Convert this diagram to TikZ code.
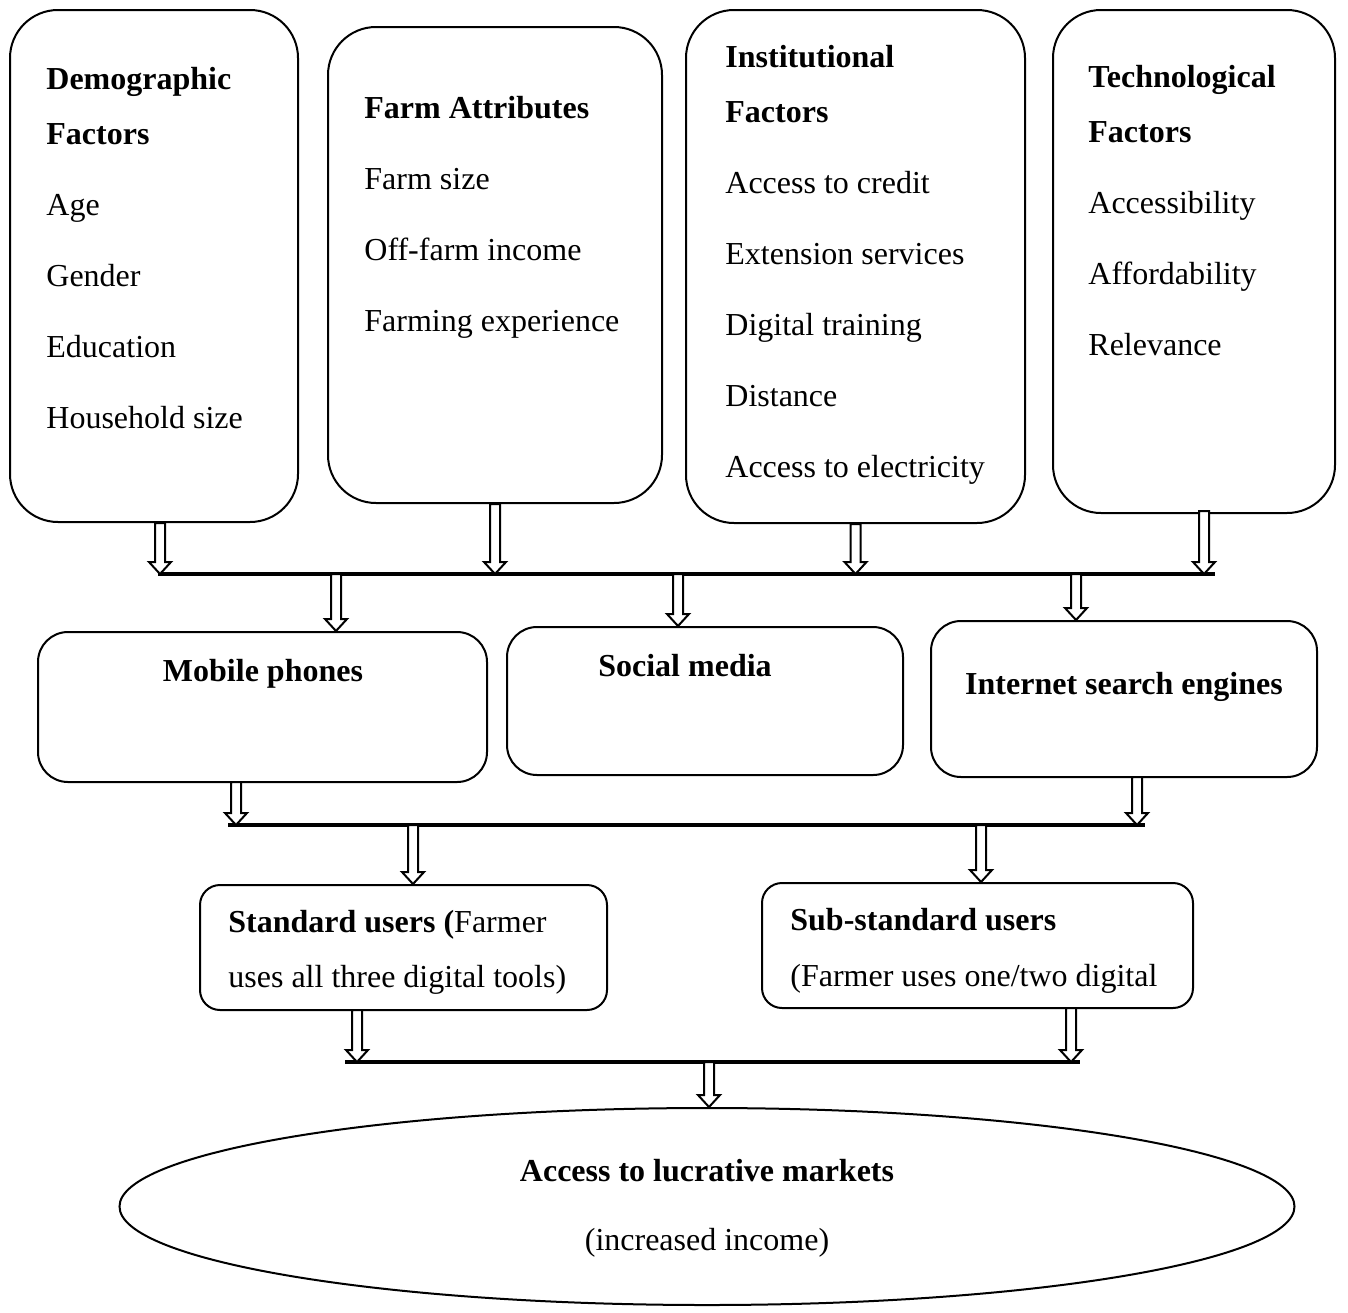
\documentclass[tikz,border=0pt]{standalone}
\usepackage{fontspec}
\setmainfont{Liberation Serif}
\usetikzlibrary{shapes.geometric}
\usetikzlibrary{fit}
\usetikzlibrary{calc}

\tikzset{
  bigbox/.style={draw, line width=1pt, rectangle, rounded corners=24pt, inner sep=0pt},
  midbox/.style={draw, line width=1pt, rectangle, rounded corners=15pt, inner sep=0pt},
  smallbox/.style={draw, line width=1pt, rectangle, rounded corners=10pt, inner sep=0pt},
  txt/.style={inner sep=0pt, align=left, font=\fontsize{16}{35.5}\selectfont},
  bar/.style={line width=1.6pt},
  blockarrow/.style={draw, line width=1pt, fill=white, line join=miter}
}

% hollow down arrow between two points
\newcommand\hollowdown[2]{%
  \draw[blockarrow] let \p1=(#1), \p2=(#2) in
    (\x1-2.5pt,\y1) -- (\x1-2.5pt,\y2+6pt) -- (\x1-5.5pt,\y2+6pt) -- (\x1,\y2)
    -- (\x1+5.5pt,\y2+6pt) -- (\x1+2.5pt,\y2+6pt) -- (\x1+2.5pt,\y1) -- cycle;}

\begin{document}
\begin{tikzpicture}[x=0.5pt, y=-0.5pt]
    \useasboundingbox (0,0) rectangle (1348,1312);

    % factor boxes
    \node[bigbox, fit={(10,10) (298,522)}] (demo) {};
    \node[bigbox, fit={(328,27) (662,503)}] (farm) {};
    \node[bigbox, fit={(686,10) (1025,523)}] (inst) {};
    \node[bigbox, fit={(1053,10) (1335,513)}] (tech) {};

    \node[txt, anchor=north west] (demotxt) at (46,67)
    {
      \textbf{Demographic}\\[-8pt] \textbf{Factors}\\ Age\\ Gender\\
      Education\\ Household size
    };
    \node[txt, anchor=north west] (farmtxt) at (364,96)
    {
      \textbf{Farm Attributes}\\ Farm size\\ Off-farm income\\
      Farming experience
    };
    \node[txt, anchor=north west] (insttxt) at (725,45)
    {
      \textbf{Institutional}\\[-8pt] \textbf{Factors}\\ Access to credit\\
      Extension services\\ Digital training\\ Distance\\
      Access to electricity
    };
    \node[txt, anchor=north west] (techtxt) at (1088,65)
    {
      \textbf{Technological}\\[-8pt] \textbf{Factors}\\ Accessibility\\
      Affordability\\ Relevance
    };

    % first joining bar
    \coordinate (bar1w) at (158,574);
    \coordinate (bar1e) at (1215,574);
    \draw[bar] (bar1w) -- (bar1e);

    \hollowdown{[xshift=3pt]demo.south}{[xshift=3pt]demo.south |- bar1w}
    \hollowdown{farm.south}{farm.south |- bar1w}
    \hollowdown{inst.south}{inst.south |- bar1w}
    \hollowdown{[xshift=5pt,yshift=1.5pt]tech.south}{[xshift=5pt]tech.south |- bar1w}

    % digital tools
    \node[midbox, fit={(38,632) (487,782)}] (mobile) {};
    \node[midbox, fit={(507,627) (903,775)}] (social) {};
    \node[midbox, fit={(931,621) (1317,777)}] (search) {};

    \node[txt] (mobiletxt) at (263,674) {\textbf{Mobile phones}};
    \node[txt] (socialtxt) at (685,666) {\textbf{Social media}};
    \node[txt] (searchtxt) at (1124,687) {\textbf{Internet search engines}};

    \coordinate (m1) at (336,574);
    \coordinate (s1) at (678,574);
    \coordinate (i1) at (1076,574);
    \hollowdown{m1}{m1 |- mobile.north}
    \hollowdown{s1}{s1 |- social.north}
    \hollowdown{i1}{i1 |- search.north}

    % second joining bar
    \coordinate (bar2w) at (228,825);
    \coordinate (bar2e) at (1145,825);
    \draw[bar] (bar2w) -- (bar2e);

    \coordinate (m2) at (236,782);
    \coordinate (i2) at (1137,777);
    \hollowdown{m2}{m2 |- bar2w}
    \hollowdown{i2}{i2 |- bar2w}

    % user groups
    \node[smallbox, fit={(200,885) (607,1010)}] (standard) {};
    \node[smallbox, fit={(762,883) (1193,1008)}] (substd) {};

    \node[txt, anchor=north west, font=\fontsize{16}{27.5}\selectfont]
      (standardtxt) at (228,910)
    {
      \textbf{Standard users (}Farmer\\ uses all three digital tools)
    };
    \node[txt, anchor=north west, font=\fontsize{16}{28}\selectfont]
      (substdtxt) at (790,908)
    {
      \textbf{Sub-standard users}\\ (Farmer uses one/two digital
    };

    \coordinate (u1) at (413,825);
    \coordinate (u2) at (981,825);
    \hollowdown{u1}{u1 |- standard.north}
    \hollowdown{u2}{u2 |- substd.north}

    % third joining bar
    \coordinate (bar3w) at (345,1062);
    \coordinate (bar3e) at (1080,1062);
    \draw[bar] (bar3w) -- (bar3e);

    \coordinate (g1) at (357,1010);
    \coordinate (g2) at (1071,1008);
    \hollowdown{g1}{g1 |- bar3w}
    \hollowdown{g2}{g2 |- bar3w}

    % outcome
    \node[draw, ellipse, line width=1pt, inner sep=0pt,
          minimum width=587.5pt, minimum height=98.5pt] (market) at (707,1206.5) {};
    \node[txt] (markettxt) at (707,1171) {\textbf{Access to lucrative markets}};
    \node[txt] (incometxt) at (707,1243) {(increased income)};

    \coordinate (o1) at (709,1062);
    \hollowdown{o1}{o1 |- market.north}
\end{tikzpicture}
\end{document}
